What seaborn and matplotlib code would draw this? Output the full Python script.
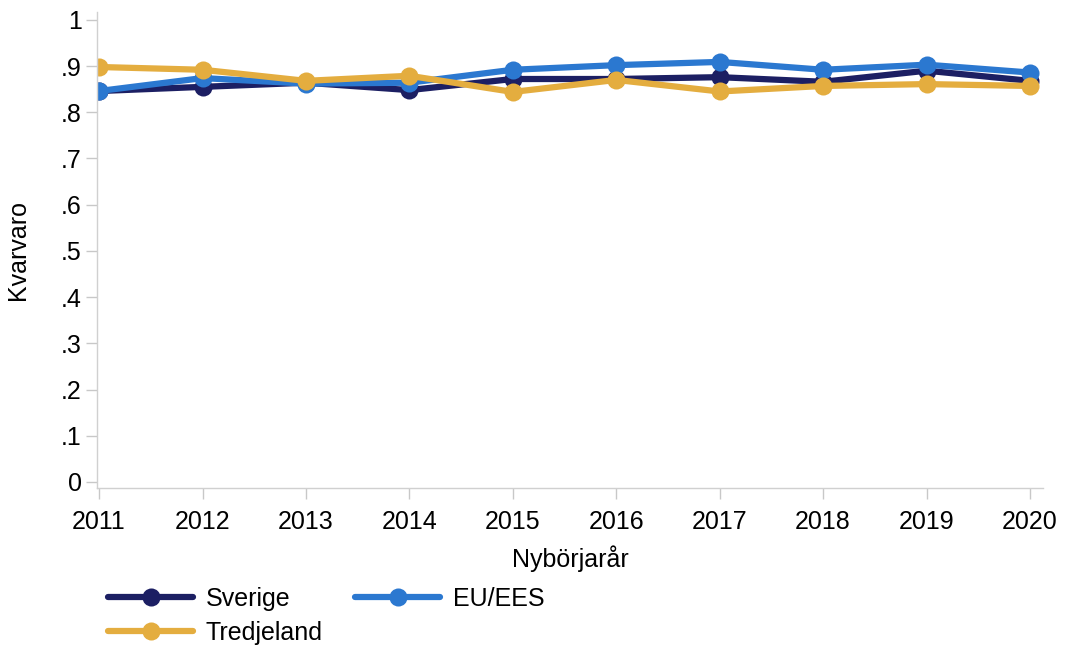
import matplotlib
matplotlib.use("Agg")
import matplotlib.pyplot as plt
import seaborn as sns
import pandas as pd

years = [2011, 2012, 2013, 2014, 2015, 2016, 2017, 2018, 2019, 2020]
sverige = [0.846, 0.855, 0.864, 0.848, 0.872, 0.872, 0.876, 0.866, 0.890, 0.868]
eu_ees = [0.846, 0.874, 0.862, 0.864, 0.892, 0.902, 0.909, 0.892, 0.903, 0.886]
tredjeland = [0.898, 0.892, 0.868, 0.879, 0.844, 0.870, 0.845, 0.857, 0.861, 0.857]
series_names = ["Sverige", "EU/EES", "Tredjeland"]
colors = ["#1c1f63", "#2b78d0", "#e4ad3f"]
yticks = [0, 0.1, 0.2, 0.3, 0.4, 0.5, 0.6, 0.7, 0.8, 0.9, 1.0]
ytick_labels = ["0", ".1", ".2", ".3", ".4", ".5", ".6", ".7", ".8", ".9", "1"]

rows = []
for name, vals in zip(series_names, [sverige, eu_ees, tredjeland]):
    for y, v in zip(years, vals):
        rows.append({"Nybörjarår": y, "Kvarvaro": v, "grupp": name})
df = pd.DataFrame(rows)

sns.set_theme(style="white")
plt.rcParams["font.family"] = ["Liberation Sans", "DejaVu Sans"]
plt.rcParams["text.color"] = "black"
plt.rcParams["axes.labelcolor"] = "black"

fig = plt.figure(figsize=(10.65, 6.45), dpi=100)
ax = fig.add_axes([97 / 1065, 1 - 488 / 645, (1043 - 97) / 1065, (488 - 12) / 645])

sns.lineplot(data=df, x="Nybörjarår", y="Kvarvaro", hue="grupp",
             hue_order=series_names, palette=colors, marker="o",
             markersize=13, markeredgewidth=0, linewidth=4.5, ax=ax,
             legend=True)

ax.set_xlim(2010.98, 2020.126)
ax.set_ylim(-0.013, 1.017)
ax.set_xticks(years)
ax.set_xticklabels([str(y) for y in years])
ax.set_yticks(yticks)
ax.set_yticklabels(ytick_labels)
ax.tick_params(axis="both", labelsize=18, colors="#c8c8c8", labelcolor="black",
               length=8, width=1, direction="out", bottom=True, left=True)
ax.tick_params(axis="x", pad=8)
ax.tick_params(axis="y", pad=3)
for s in ["top", "right"]:
    ax.spines[s].set_visible(False)
for s in ["left", "bottom"]:
    ax.spines[s].set_color("#d0d0d0")
    ax.spines[s].set_linewidth(1)
ax.set_xlabel("Nybörjarår", fontsize=18, labelpad=8, color="black")
ax.set_ylabel("Kvarvaro", fontsize=18, labelpad=22, color="black")

handles, labels = ax.get_legend_handles_labels()
hmap = dict(zip(labels, handles))
order = ["Sverige", "Tredjeland", "EU/EES"]
leg = ax.legend([hmap[k] for k in order], order, loc="upper left",
                bbox_to_anchor=(-0.012, -0.16), ncol=2, frameon=False,
                fontsize=18, handlelength=3.4, columnspacing=1.3,
                handletextpad=0.5, labelspacing=0.4)
for h in leg.get_lines():
    h.set_linewidth(4.5)
    h.set_markersize(13)

fig.savefig("out.png", dpi=100)
